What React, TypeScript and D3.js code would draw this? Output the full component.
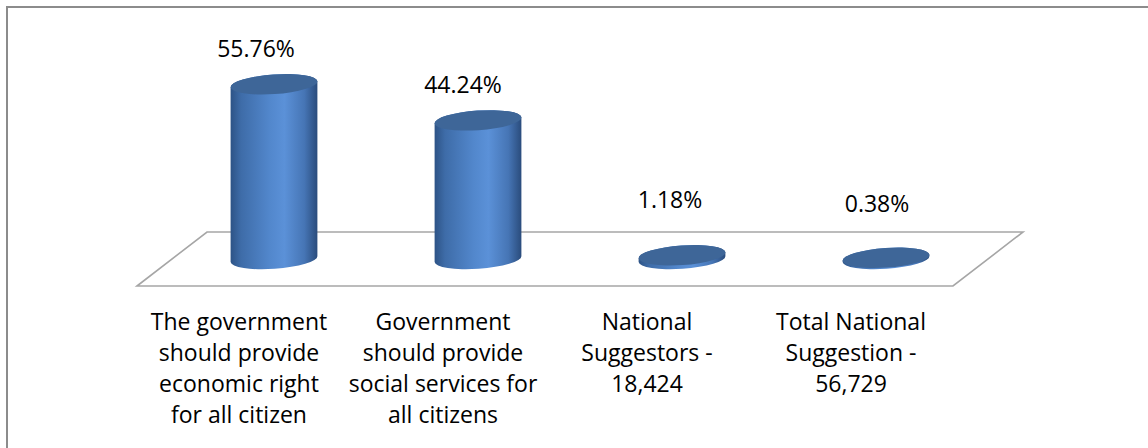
import React from "react";
import * as d3 from "d3";

const categories: string[][] = [
  ["The government", "should provide", "economic right", "for all citizen"],
  ["Government", "should provide", "social services for", "all citizens"],
  ["National", "Suggestors -", "18,424"],
  ["Total National", "Suggestion -", "56,729"],
];
const values: number[] = [55.76, 44.24, 1.18, 0.38];
const valueLabels: string[] = ["55.76%", "44.24%", "1.18%", "0.38%"];

const W = 1148;
const H = 448;
const FONT = "'Open Sans', 'DejaVu Sans', sans-serif";

export default function App() {
  // floor geometry
  const frontLeft = 137;
  const frontRight = 953;
  const frontY = 286;
  const depthX = 70;
  const depthY = 54;
  const baseY = frontY - depthY / 2; // cylinder base center (mid-depth)

  const x = d3
    .scaleBand<number>()
    .domain(d3.range(categories.length))
    .range([frontLeft, frontRight])
    .paddingInner(0)
    .paddingOuter(0);
  const y = d3.scaleLinear().domain([0, 60]).range([baseY, baseY - 188]);

  const rx = 43.5;
  const ry = 9.8;
  const rot = -4;
  const th = (rot * Math.PI) / 180;
  const ex = rx * Math.cos(th);
  const ey = rx * Math.sin(th);

  const floorPts = [
    [frontLeft, frontY],
    [frontLeft + depthX, frontY - depthY],
    [frontRight + depthX, frontY - depthY],
    [frontRight, frontY],
  ];
  const floorPath = d3.line()(floorPts as [number, number][]) + "Z";

  return (
    <svg
      width={W}
      height={H}
      style={{ position: "absolute", left: 0, top: 0, display: "block", background: "#fff" }}
    >
      <defs>
        <linearGradient id="cylBody" x1="0" y1="0" x2="1" y2="0">
          <stop offset="0" stopColor="#2d5386" />
          <stop offset="0.12" stopColor="#3e6ca8" />
          <stop offset="0.45" stopColor="#5287cc" />
          <stop offset="0.62" stopColor="#5b91d8" />
          <stop offset="0.85" stopColor="#4675b5" />
          <stop offset="1" stopColor="#2a4c7c" />
        </linearGradient>
      </defs>
      <rect x={7} y={7} width={W + 20} height={H + 20} fill="#fff" stroke="#8c8c8c" strokeWidth={2} />
      <path d={floorPath} fill="#fff" stroke="#a6a6a6" strokeWidth={1.6} />
      {values.map((v, i) => {
        const cx = (x(i) as number) + x.bandwidth() / 2 + depthX / 2;
        const yb = baseY;
        const yt = y(v);
        const body =
          `M${cx - ex},${yt - ey} L${cx - ex},${yb - ey} ` +
          `A${rx},${ry} ${rot} 0 0 ${cx + ex},${yb + ey} ` +
          `L${cx + ex},${yt + ey} ` +
          `A${rx},${ry} ${rot} 0 0 ${cx - ex},${yt - ey} Z`;
        return (
          <g key={i}>
            <path d={body} fill="url(#cylBody)" />
            <ellipse
              cx={cx}
              cy={yt}
              rx={rx}
              ry={ry}
              fill="#3e6698"
              transform={`rotate(${rot},${cx},${yt})`}
            />
            <text
              x={cx - 18 + 3 * i}
              y={Math.min(yt - 27, 208 + (i === 3 ? 4 : 0))}
              textAnchor="middle"
              fontFamily={FONT}
              fontSize={23}
              fill="#000"
            >
              {valueLabels[i]}
            </text>
          </g>
        );
      })}
      {categories.map((lines, i) => {
        const cx = (x(i) as number) + x.bandwidth() / 2;
        return (
          <text key={i} textAnchor="middle" fontFamily={FONT} fontSize={23} fill="#000">
            {lines.map((ln, j) => (
              <tspan key={j} x={cx} y={330 + j * 31}>
                {ln}
              </tspan>
            ))}
          </text>
        );
      })}
    </svg>
  );
}
